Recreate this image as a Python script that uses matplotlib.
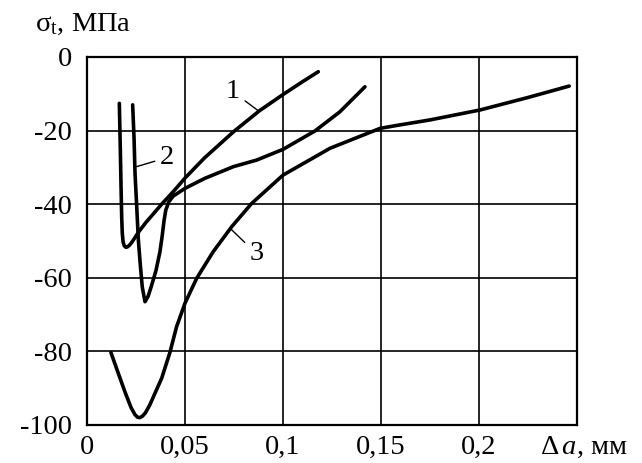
import matplotlib
matplotlib.use("Agg")
import matplotlib.pyplot as plt

plt.rcParams['font.family'] = ['Liberation Serif', 'DejaVu Serif']
plt.rcParams['mathtext.fontset'] = 'custom'
plt.rcParams['mathtext.rm'] = 'Liberation Serif'
plt.rcParams['mathtext.it'] = 'Liberation Serif:italic'

# Кривая 1
x1 = [0.0165, 0.0170, 0.0174, 0.0177, 0.0180, 0.0184, 0.0190, 0.0198, 0.0206,
      0.0216, 0.0228, 0.0242, 0.0260, 0.0300, 0.0381, 0.0440, 0.0500, 0.0600,
      0.0750, 0.0880, 0.1000, 0.1100, 0.1180]
y1 = [-12.6, -25.0, -36.0, -43.5, -47.8, -50.2, -51.3, -51.7, -51.6,
      -51.2, -50.4, -49.3, -47.8, -45.0, -40.0, -36.6, -32.9, -27.4,
      -20.2, -14.6, -10.2, -6.7, -4.0]

# Кривая 2
x2 = [0.0233, 0.0240, 0.0245, 0.0254, 0.0262, 0.0272, 0.0282, 0.0296, 0.0312,
      0.0330, 0.0352, 0.0372, 0.0384, 0.0393, 0.0402, 0.0418, 0.0440, 0.0500,
      0.0600, 0.0747, 0.0866, 0.1000, 0.1163, 0.1290, 0.1418]
y2 = [-13.0, -22.0, -31.6, -41.0, -49.7, -56.5, -62.5, -66.5, -65.0,
      -62.0, -58.0, -53.0, -48.5, -44.5, -41.6, -39.3, -37.8, -35.7,
      -33.0, -29.8, -28.0, -25.1, -20.1, -14.9, -8.1]

# Кривая 3
x3 = [0.0122, 0.0160, 0.0195, 0.0225, 0.0245, 0.0258, 0.0270, 0.0283, 0.0298,
      0.0320, 0.0350, 0.0381, 0.0423, 0.0457, 0.0500, 0.0560, 0.0644, 0.0740,
      0.0840, 0.1000, 0.1240, 0.1495, 0.1580, 0.1750, 0.2005, 0.2250, 0.2460]
y3 = [-80.3, -86.0, -91.2, -95.3, -97.2, -97.9, -98.0, -97.6, -96.7,
      -94.6, -91.0, -87.3, -80.3, -73.3, -66.9, -60.1, -52.9, -46.0,
      -39.8, -32.1, -24.8, -19.4, -18.6, -17.1, -14.4, -11.0, -7.9]

xticks = [0, 0.05, 0.1, 0.15, 0.2]
xtick_labels = ['0', '0,05', '0,1', '0,15', '0,2']
yticks = [-100, -80, -60, -40, -20, 0]
ytick_labels = ['-100', '-80', '-60', '-40', '-20', '0']

fs = 20.5

fig = plt.figure(figsize=(6.42, 4.63), dpi=100)
ax = fig.add_axes([0.1355, 0.0821, 0.7633, 0.7948])

for xs, ys in [(x1, y1), (x2, y2), (x3, y3)]:
    ax.plot(xs, ys, color='black', lw=2.6, solid_capstyle='round',
            solid_joinstyle='round')

ax.set_xlim(0, 0.25)
ax.set_ylim(-100, 0)
ax.set_xticks(xticks + [0.25])
ax.set_xticklabels(xtick_labels + [''])
ax.set_yticks(yticks)
ax.set_yticklabels(ytick_labels)
ax.tick_params(axis='both', length=0, labelsize=fs)
ax.tick_params(axis='x', pad=7)
ax.tick_params(axis='y', pad=11)
ax.grid(True, color='black', lw=1.2)
for s in ax.spines.values():
    s.set_linewidth(1.6)

# подписи кривых
arrow = dict(arrowstyle='-', color='black', lw=1.0, shrinkA=2, shrinkB=0)
ax.annotate('1', xy=(0.0874, -14.6), xytext=(0.0745, -9.5), fontsize=fs,
            ha='center', va='center', arrowprops=arrow)
ax.annotate('2', xy=(0.0253, -29.8), xytext=(0.041, -27.3), fontsize=fs,
            ha='center', va='center', arrowprops=arrow)
ax.annotate('3', xy=(0.0735, -46.8), xytext=(0.0865, -53.5), fontsize=fs,
            ha='center', va='center', arrowprops=arrow)

fig.text(0.054, 0.948, r'$\mathrm{\sigma}_{\mathrm{t}}$, МПа', fontsize=fs,
         ha='left', va='center')
fig.text(0.91, 0.034, r'$\Delta\, a$, мм', fontsize=fs, ha='center', va='center')

fig.savefig('out.png', dpi=100)
